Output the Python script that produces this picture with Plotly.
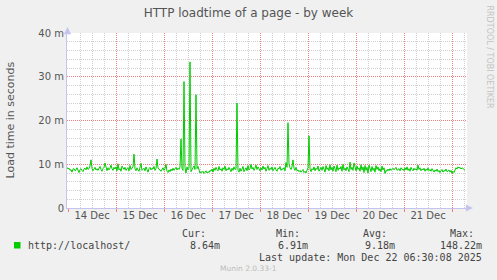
import pandas as pd
import plotly.graph_objects as go

# ---- data ----
start_time = "2025-12-13 23:30"
range_end = "2025-12-22 07:30"
loadtime_ms = [
    9.3, 8.9, 9.1, 8.6, 8.8, 8.2, 8.9, 9.0, 8.5, 8.7, 9.2, 8.4, 8.1, 8.8, 9.0, 8.6, 8.3, 8.9, 9.1, 8.7, 9.4, 8.8, 9.0, 9.6,
    11.0, 9.1, 8.5, 8.9, 9.3, 8.7, 9.0, 8.6, 9.2, 9.5, 8.8, 8.4, 9.0, 9.3, 10.3, 8.9, 8.5, 9.2, 8.7, 9.1, 9.8, 9.0, 8.6, 9.3,
    8.9, 9.4, 8.5, 10.1, 8.7, 9.0, 8.4, 9.6, 9.1, 8.8, 9.3, 8.6, 9.0, 9.2, 8.5, 9.7, 8.8, 9.1, 9.4, 12.3, 9.0, 8.5, 9.2, 8.7,
    8.4, 9.3, 10.2, 8.6, 8.9, 9.1, 8.5, 9.4, 8.8, 8.2, 9.0, 9.3, 8.7, 9.1, 8.9, 9.5, 8.6, 9.0, 11.2, 9.2, 8.8, 8.7, 8.4, 9.0,
    9.2, 8.6, 9.0, 10.0, 8.4, 8.1, 8.7, 8.3, 8.9, 8.5, 9.1, 8.6, 9.0, 9.3, 8.7, 9.1, 8.8, 9.4, 15.8, 9.0, 8.6, 28.9, 9.2, 8.0,
    9.4, 8.7, 9.1, 33.4, 8.3, 8.9, 9.2, 9.6, 8.8, 25.9, 9.0, 9.5, 8.4, 8.0, 8.3, 8.1, 8.4, 7.9, 8.2, 8.5, 8.0, 8.3, 8.1, 8.6,
    8.4, 8.9, 8.2, 9.1, 8.6, 9.3, 8.8, 8.5, 9.5, 8.7, 9.0, 8.4, 9.2, 8.8, 9.6, 8.5, 9.0, 8.7, 9.3, 8.9, 8.3, 9.1, 8.6, 9.4,
    8.8, 9.0, 24.0, 8.6, 8.2, 9.1, 8.4, 8.9, 9.5, 8.3, 8.8, 9.2, 8.5, 9.7, 8.7, 9.0, 10.0, 8.9, 9.3, 8.6, 9.1, 9.8, 8.8, 9.4,
    9.0, 8.5, 9.2, 8.7, 9.6, 8.9, 9.3, 8.4, 9.0, 9.7, 8.6, 9.1, 8.8, 9.4, 8.5, 9.0, 9.3, 8.7, 8.4, 9.1, 8.9, 9.5, 8.6, 9.0,
    8.8, 9.2, 8.5, 10.4, 9.3, 19.5, 10.0, 9.2, 8.8, 9.4, 11.0, 9.1, 8.6, 9.3, 8.5, 8.7, 8.3, 8.6, 8.2, 8.5, 8.8, 8.1, 8.4, 8.0,
    8.6, 9.2, 16.5, 8.9, 8.3, 9.0, 8.7, 9.4, 8.5, 9.1, 8.8, 9.6, 8.4, 9.0, 9.3, 8.6, 9.5, 8.9, 8.2, 9.7, 8.8, 9.2, 8.5, 9.9,
    8.7, 9.3, 8.4, 9.6, 9.0, 8.3, 9.8, 8.6, 9.2, 8.9, 9.5, 8.4, 10.0, 8.7, 9.1, 8.5, 9.4, 9.0, 8.3, 10.5, 8.8, 9.3, 8.6, 10.3,
    9.0, 8.5, 9.6, 8.8, 9.2, 8.4, 9.9, 8.7, 9.4, 8.1, 9.7, 8.6, 9.3, 8.0, 9.8, 8.9, 8.3, 9.5, 8.6, 9.1, 8.2, 9.7, 8.8, 9.4,
    8.5, 9.0, 8.3, 9.6, 8.7, 9.2, 7.9, 8.6, 8.4, 8.9, 8.5, 9.0, 8.6, 8.8, 9.1, 8.7, 8.9, 9.3, 8.6, 8.8, 9.0, 8.5, 9.2, 8.8,
    8.9, 8.5, 9.2, 8.7, 9.4, 8.6, 9.0, 8.4, 9.3, 8.8, 8.5, 9.1, 8.7, 9.0, 8.6, 9.8, 8.8, 9.2, 8.5, 8.9, 8.7, 9.1, 8.4, 8.9,
    8.6, 9.2, 8.5, 8.8, 8.4, 9.0, 8.6, 8.2, 8.7, 8.4, 8.9, 8.3, 8.6, 8.1, 8.5, 8.8, 8.2, 8.6, 8.4, 8.9, 8.3, 8.5, 8.7, 8.2,
    8.6, 7.9, 8.4, 8.1, 8.8, 9.2, 8.9, 9.4, 9.1, 9.3, 8.9, 9.2, 9.0, 8.8, 8.64,
]
day_midnights = ["2025-12-%02d" % d for d in range(14, 23)]
day_label_positions = ["2025-12-%02d 12:00" % d for d in range(14, 22)]
day_labels = ["%d Dec" % d for d in range(14, 22)]
y_tick_values = [0, 10, 20, 30, 40]
y_tick_labels = ["0", "10 m", "20 m", "30 m", "40 m"]
series_name = "http://localhost/"
stat_cur = "8.64m"
stat_min = "6.91m"
stat_avg = "9.18m"
stat_max = "148.22m"
last_update = "Last update: Mon Dec 22 06:30:08 2025"

times = pd.date_range(start_time, periods=len(loadtime_ms), freq="30min")

# minor grid positions (excluding the major ones)
x_minor = ["2025-12-%02d %02d:00" % (d, h) for d in range(13, 23) for h in (6, 12, 18)]
y_minor = [v for v in range(2, 40, 2) if v % 10 != 0]

W, H = 497, 280
L, R, T, B = 67, 30, 33, 72
PW, PH = W - L - R, H - T - B

def px(x):
    return (x - L) / PW

def py(y):
    return (H - B - y) / PH

RED = "#F08080"
GRAY = "#D0D0D0"
DOTS = "1px,1px"
AXIS = "#C4C4EE"
TXT = "#555555"
LEG = "#444444"

fig = go.Figure()
fig.add_trace(go.Scatter(x=times, y=loadtime_ms, mode="lines",
                         line=dict(color="#00CC00", width=1), showlegend=False,
                         hoverinfo="skip"))
# invisible helper traces to activate the overlay axes
for xa, ya in (("x2", "y"), ("x3", "y"), ("x", "y2")):
    fig.add_trace(go.Scatter(x=[times[0]], y=[0], xaxis=xa, yaxis=ya, mode="markers",
                             marker=dict(opacity=0), showlegend=False, hoverinfo="skip"))

fig.update_layout(
    width=W, height=H,
    margin=dict(l=L, r=R, t=T, b=B),
    paper_bgcolor="#F0F0F0", plot_bgcolor="#FFFFFF",
    font=dict(family="DejaVu Sans", size=10, color=TXT),
    title=dict(text="HTTP loadtime of a page - by week", x=0.5, xref="container",
               xanchor="center", y=1 - 13 / H, yanchor="middle", yref="container",
               font=dict(family="DejaVu Sans", size=12, color=TXT)),
    # main x: day (midnight) red grid, red ticks, axis line
    xaxis=dict(range=[start_time, range_end], type="date",
               tickmode="array", tickvals=day_midnights, showticklabels=False,
               ticks="outside", ticklen=3, tickcolor="#F08080", tickwidth=1,
               showgrid=True, gridcolor=RED, griddash=DOTS, gridwidth=1,
               showline=True, linecolor=AXIS, linewidth=1, zeroline=False),
    # day labels
    xaxis2=dict(range=[start_time, range_end], type="date", overlaying="x",
                side="bottom", tickmode="array", tickvals=day_label_positions,
                ticktext=day_labels, showgrid=False, ticks="", showline=False,
                zeroline=False, tickfont=dict(size=10, color=TXT)),
    # 6-hour gray grid
    xaxis3=dict(range=[start_time, range_end], type="date", overlaying="x",
                side="bottom", tickmode="array", tickvals=x_minor,
                showticklabels=False, ticks="", showgrid=True, gridcolor=GRAY,
                griddash=DOTS, gridwidth=1, showline=False, zeroline=False),
    # main y: labels + red grid + axis line
    yaxis=dict(range=[0, 40], tickmode="array", tickvals=y_tick_values,
               ticktext=y_tick_labels, ticks="", showgrid=True, gridcolor=RED,
               griddash=DOTS, gridwidth=1, showline=True, linecolor=AXIS,
               linewidth=1, zeroline=False, tickfont=dict(size=10, color=TXT)),
    # minor y gray grid
    yaxis2=dict(range=[0, 40], overlaying="y", side="left", tickmode="array",
                tickvals=y_minor, showticklabels=False, ticks="",
                showgrid=True, gridcolor=GRAY, griddash=DOTS, gridwidth=1,
                showline=False, zeroline=False),
)

ann = []
# y title
ann.append(dict(text="Load time in seconds", xref="paper", yref="paper", x=px(10), y=0.5,
                textangle=-90, showarrow=False, xanchor="center", yanchor="middle",
                font=dict(family="DejaVu Sans", size=11, color=TXT)))
# right credit
ann.append(dict(text="RRDTOOL / TOBI OETIKER", xref="paper", yref="paper", x=px(489), y=py(56.5),
                textangle=90, showarrow=False, xanchor="center", yanchor="middle",
                font=dict(family="DejaVu Sans", size=8, color="#C4C4C4")))
# axis arrows
ann.append(dict(text="", xref="paper", yref="paper", x=px(473), y=py(208), ax=-7, ay=0,
                showarrow=True, arrowhead=2, arrowsize=1.2, arrowwidth=1.2, arrowcolor=AXIS))
ann.append(dict(text="", xref="paper", yref="paper", x=px(67.5), y=py(27), ax=0, ay=7,
                showarrow=True, arrowhead=2, arrowsize=1.2, arrowwidth=1.2, arrowcolor=AXIS))

mono = dict(family="DejaVu Sans Mono", size=10, color=LEG)

def label(text, x, y, anchor):
    ann.append(dict(text=text, xref="paper", yref="paper", x=px(x), y=py(y),
                    showarrow=False, xanchor=anchor, yanchor="middle", font=mono))

label(series_name, 26, 245.5, "left")
label("Cur:", 207.5, 233, "right")
label(stat_cur, 221.5, 245.5, "right")
label("Min:", 273.5, 233, "left")
label(stat_min, 309.5, 245.5, "right")
label("Avg:", 361, 233, "left")
label(stat_avg, 396.5, 245.5, "right")
label("Max:", 447.5, 233, "left")
label(stat_max, 483.5, 245.5, "right")
label(last_update, 483.5, 257.5, "right")
ann.append(dict(text="Munin 2.0.33-1", xref="paper", yref="paper", x=px(248.5), y=py(268.5),
                showarrow=False, xanchor="center", yanchor="middle",
                font=dict(family="DejaVu Sans", size=7.5, color="#BBBBBB")))
fig.update_layout(annotations=ann)

fig.add_shape(type="rect", xref="paper", yref="paper", x0=px(14), x1=px(20.5),
              y0=py(248.5), y1=py(242), fillcolor="#00CC00", line=dict(width=0))

fig.write_html("out.html")
